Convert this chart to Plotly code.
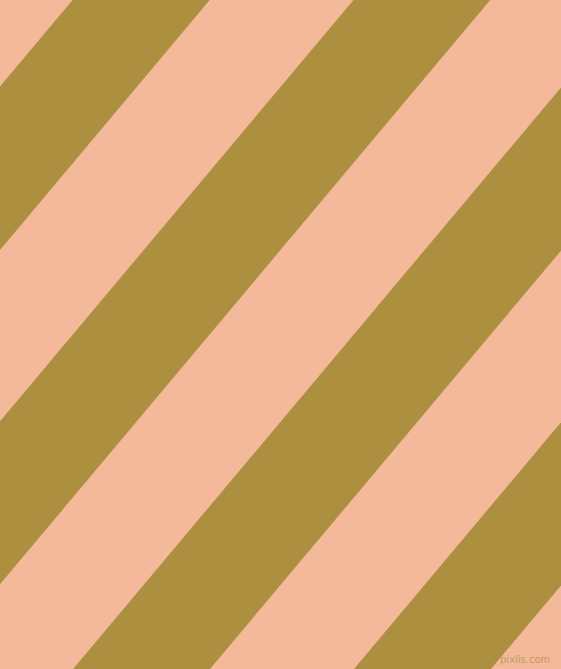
import plotly.graph_objects as go

# stripe edges read off the top edge of the picture (x at y = 0, in px),
# continued past the right edge along the same line
stripe_start = [72.6, 353.5, 634.4, 915.3]
stripe_end = [209.7, 490.2, 771.3, 1052.2]
shift_per_px = 0.839  # stripes move left this much per pixel down

width, height = 561, 669
peach = '#F4B89B'
olive = '#AC903F'

fig = go.Figure()
for s, e in zip(stripe_start, stripe_end):
    dx = shift_per_px * height
    fig.add_trace(go.Scatter(
        x=[s, e, e - dx, s - dx, s],
        y=[0, 0, height, height, 0],
        mode='lines',
        line=dict(width=0, color=olive),
        fill='toself',
        fillcolor=olive,
        hoverinfo='skip',
        showlegend=False
    ))

fig.add_annotation(
    x=552, y=659, xref='x', yref='y',
    text='pixlis.com', showarrow=False,
    xanchor='right', yanchor='middle',
    font=dict(family='DejaVu Sans', size=10, color='#C29B5E')
)

fig.update_layout(
    width=width,
    height=height,
    margin=dict(l=0, r=0, t=0, b=0),
    paper_bgcolor=peach,
    plot_bgcolor=peach,
    xaxis=dict(range=[0, width], visible=False, fixedrange=True),
    yaxis=dict(range=[height, 0], visible=False, fixedrange=True)
)

# drop the page's default body margin so the figure fills the window
fig.write_html(
    "out.html",
    config={'displayModeBar': False},
    post_script="document.body.style.margin='0';document.body.style.overflow='hidden';"
)
